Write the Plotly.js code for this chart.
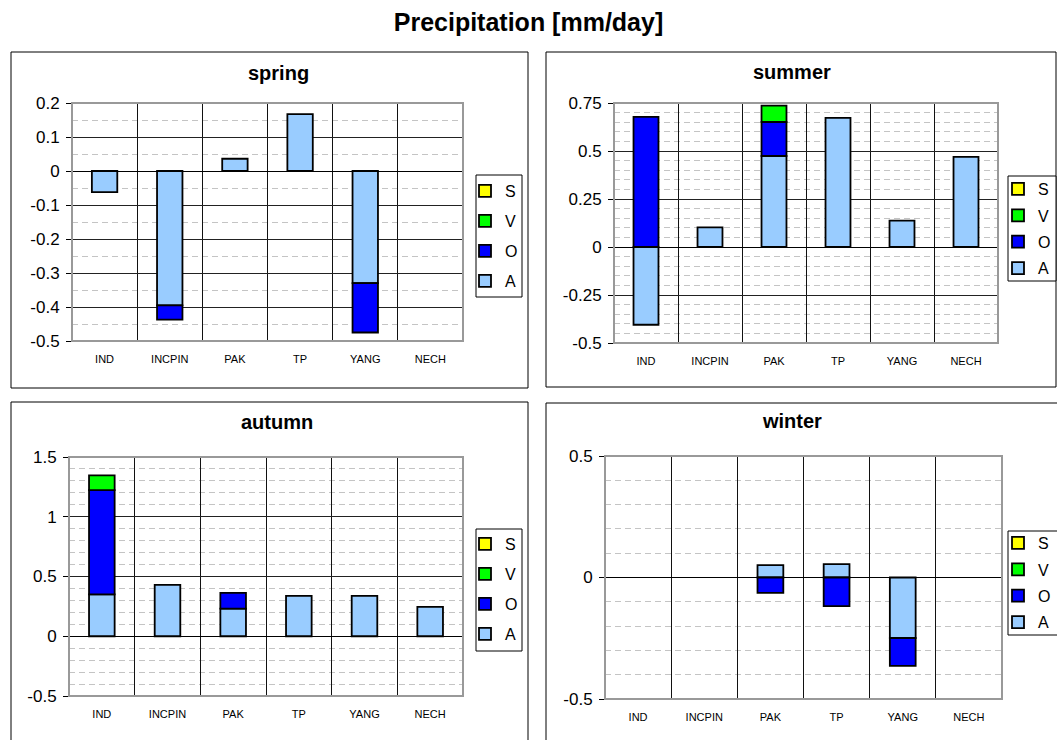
<!DOCTYPE html>
<html>
<head>
<meta charset="utf-8">
<script src="https://cdn.plot.ly/plotly-3.0.1.min.js"></script>
<style>html,body{margin:0;padding:0;background:#fff;}#chart{width:1057px;height:740px;}</style>
</head>
<body>
<div id="chart"></div>
<script>
// ---- data ----
const categories = ['IND', 'INCPIN', 'PAK', 'TP', 'YANG', 'NECH'];
const seriesNames = ['A', 'O', 'V', 'S'];

const spring_A = [-0.062, -0.395, 0.036, 0.167, -0.33, null];
const spring_O = [null, -0.042, null, null, -0.145, null];
const spring_V = [null, null, null, null, null, null];
const spring_S = [null, null, null, null, null, null];

const summer_A = [-0.405, 0.102, 0.474, 0.673, 0.137, 0.469];
const summer_O = [0.678, null, 0.177, null, null, null];
const summer_V = [null, null, 0.085, null, null, null];
const summer_S = [null, null, null, null, null, null];

const autumn_A = [0.35, 0.43, 0.231, 0.338, 0.338, 0.245];
const autumn_O = [0.873, null, 0.132, null, null, null];
const autumn_V = [0.123, null, null, null, null, null];
const autumn_S = [null, null, null, null, null, null];

const winter_A = [null, null, 0.051, 0.055, -0.249, null];
const winter_O = [null, null, -0.063, -0.118, -0.115, null];
const winter_V = [null, null, null, null, null, null];
const winter_S = [null, null, null, null, null, null];

const spring_ticks = [0.2, 0.1, 0, -0.1, -0.2, -0.3, -0.4, -0.5];
const spring_tickText = ['0.2', '0.1', '0', '-0.1', '-0.2', '-0.3', '-0.4', '-0.5'];
const summer_ticks = [0.75, 0.5, 0.25, 0, -0.25, -0.5];
const summer_tickText = ['0.75', '0.5', '0.25', '0', '-0.25', '-0.5'];
const autumn_ticks = [1.5, 1, 0.5, 0, -0.5];
const autumn_tickText = ['1.5', '1', '0.5', '0', '-0.5'];
const winter_ticks = [0.5, 0, -0.5];
const winter_tickText = ['0.5', '0', '-0.5'];

const panelTitles = ['spring', 'summer', 'autumn', 'winter'];
const mainTitle = 'Precipitation [mm/day]';

// ---- styling / layout ----
const W = 1057, H = 740;
const px = x => x / W;
const py = y => 1 - y / H;
const FONT = 'Liberation Sans, Arial, sans-serif';
const colors = {A: '#99CCFF', O: '#0000FF', V: '#00FF00', S: '#FFFF00'};
const legendRank = {S: 1, V: 2, O: 3, A: 4};

const panels = [
  {title: panelTitles[0], data: {A: spring_A, O: spring_O, V: spring_V, S: spring_S},
   ticks: spring_ticks, tickText: spring_tickText, range: [-0.5, 0.2], minor: 0.05,
   plot: [72, 103, 463, 341], box: [11, 52, 528, 388], titleXY: [278, 73],
   legend: [476, 175, 522, 297], legX: 465, legTop: 174, gap: 6.2},
  {title: panelTitles[1], data: {A: summer_A, O: summer_O, V: summer_V, S: summer_S},
   ticks: summer_ticks, tickText: summer_tickText, range: [-0.5, 0.75], minor: 0.05,
   plot: [614, 103, 998, 343], box: [546, 52, 1056, 387], titleXY: [792, 72],
   legend: [1008, 176, 1056, 281], legX: 998, legTop: 172, gap: 2.6},
  {title: panelTitles[2], data: {A: autumn_A, O: autumn_O, V: autumn_V, S: autumn_S},
   ticks: autumn_ticks, tickText: autumn_tickText, range: [-0.5, 1.5], minor: 0.1,
   plot: [69, 457, 463, 696], box: [11, 402, 528, 745], titleXY: [277, 422],
   legend: [476, 529, 522, 651], legX: 465, legTop: 527, gap: 6.2},
  {title: panelTitles[3], data: {A: winter_A, O: winter_O, V: winter_V, S: winter_S},
   ticks: winter_ticks, tickText: winter_tickText, range: [-0.5, 0.5], minor: 0.1,
   plot: [605, 456, 1002, 699], box: [546, 403, 1060, 745], titleXY: [792, 421],
   legend: [1008, 531, 1060, 635], legX: 998, legTop: 526, gap: 2.6}
];

const traces = [];
const layout = {
  width: W, height: H,
  margin: {l: 0, r: 0, t: 0, b: 0, autoexpand: false},
  paper_bgcolor: '#ffffff', plot_bgcolor: '#ffffff',
  barmode: 'relative', bargap: 0.61,
  showlegend: true,
  font: {family: FONT, color: '#000'},
  title: {text: '<b>' + mainTitle + '</b>', font: {family: FONT, size: 25, color: '#000'},
          x: 0.5, xanchor: 'center', y: py(22), yanchor: 'middle', yref: 'container'},
  shapes: [], annotations: []
};

panels.forEach((p, i) => {
  const n = i + 1;
  const xa = 'xaxis' + (n === 1 ? '' : n), ya = 'yaxis' + (n === 1 ? '' : n);
  const xr = 'x' + (n === 1 ? '' : n), yr = 'y' + (n === 1 ? '' : n);
  const lg = 'legend' + (n === 1 ? '' : n);
  seriesNames.forEach(s => {
    traces.push({
      type: 'bar', name: s, x: categories, y: p.data[s],
      xaxis: xr, yaxis: yr, legend: lg, legendgroup: 'p' + n + s,
      legendrank: legendRank[s],
      marker: {color: colors[s], line: {color: '#000', width: 1.8}},
      hoverinfo: 'x+y+name'
    });
  });
  layout[xa] = {
    domain: [px(p.plot[0]), px(p.plot[2])], anchor: yr,
    type: 'category', tickson: 'boundaries', showgrid: true,
    gridcolor: '#111', gridwidth: 1, ticks: '', showline: false,
    tickfont: {family: FONT, size: 11, color: '#000'}, ticklabelstandoff: 10,
    zeroline: false, fixedrange: true
  };
  layout[ya] = {
    domain: [py(p.plot[3]), py(p.plot[1])], anchor: xr,
    range: p.range, tickmode: 'array', tickvals: p.ticks, ticktext: p.tickText,
    showgrid: true, gridcolor: '#222', gridwidth: 1,
    zeroline: true, zerolinecolor: '#000', zerolinewidth: 1,
    showline: true, linecolor: '#000', linewidth: 1,
    ticks: 'outside', ticklen: 5, tickcolor: '#000', ticklabelstandoff: 3,
    tickfont: {family: FONT, size: 17, color: '#000'},
    minor: {tickmode: 'linear', tick0: 0, dtick: p.minor, showgrid: true,
            gridcolor: '#c4c4c4', gridwidth: 1, griddash: '6px,4px', ticks: ''},
    fixedrange: true
  };
  layout[lg] = {
    x: px(p.legX), xanchor: 'left', y: py(p.legTop), yanchor: 'top',
    bgcolor: 'rgba(0,0,0,0)', borderwidth: 0,
    font: {family: FONT, size: 16, color: '#000'},
    traceorder: 'grouped', tracegroupgap: p.gap, itemwidth: 30,
    itemclick: false, itemdoubleclick: false
  };
  // plot area grey border
  layout.shapes.push({type: 'rect', xref: xr + ' domain', yref: yr + ' domain',
    x0: 0, x1: 1, y0: 0, y1: 1, line: {color: '#999', width: 2}, layer: 'above'});
  // panel box
  layout.shapes.push({type: 'rect', xref: 'paper', yref: 'paper',
    x0: px(p.box[0]), x1: px(p.box[2]), y0: py(p.box[3]), y1: py(p.box[1]),
    line: {color: '#000', width: 1}, layer: 'below'});
  // legend box
  layout.shapes.push({type: 'rect', xref: 'paper', yref: 'paper',
    x0: px(p.legend[0]), x1: px(p.legend[2]), y0: py(p.legend[3]), y1: py(p.legend[1]),
    line: {color: '#000', width: 1}, fillcolor: '#fff', layer: 'below'});
  layout.annotations.push({text: '<b>' + p.title + '</b>', xref: 'paper', yref: 'paper',
    x: px(p.titleXY[0]), y: py(p.titleXY[1]), xanchor: 'center', yanchor: 'middle',
    showarrow: false, font: {family: FONT, size: 20, color: '#000'}});
});

Plotly.newPlot('chart', traces, layout, {displayModeBar: false, staticPlot: true});
</script>
</body>
</html>
